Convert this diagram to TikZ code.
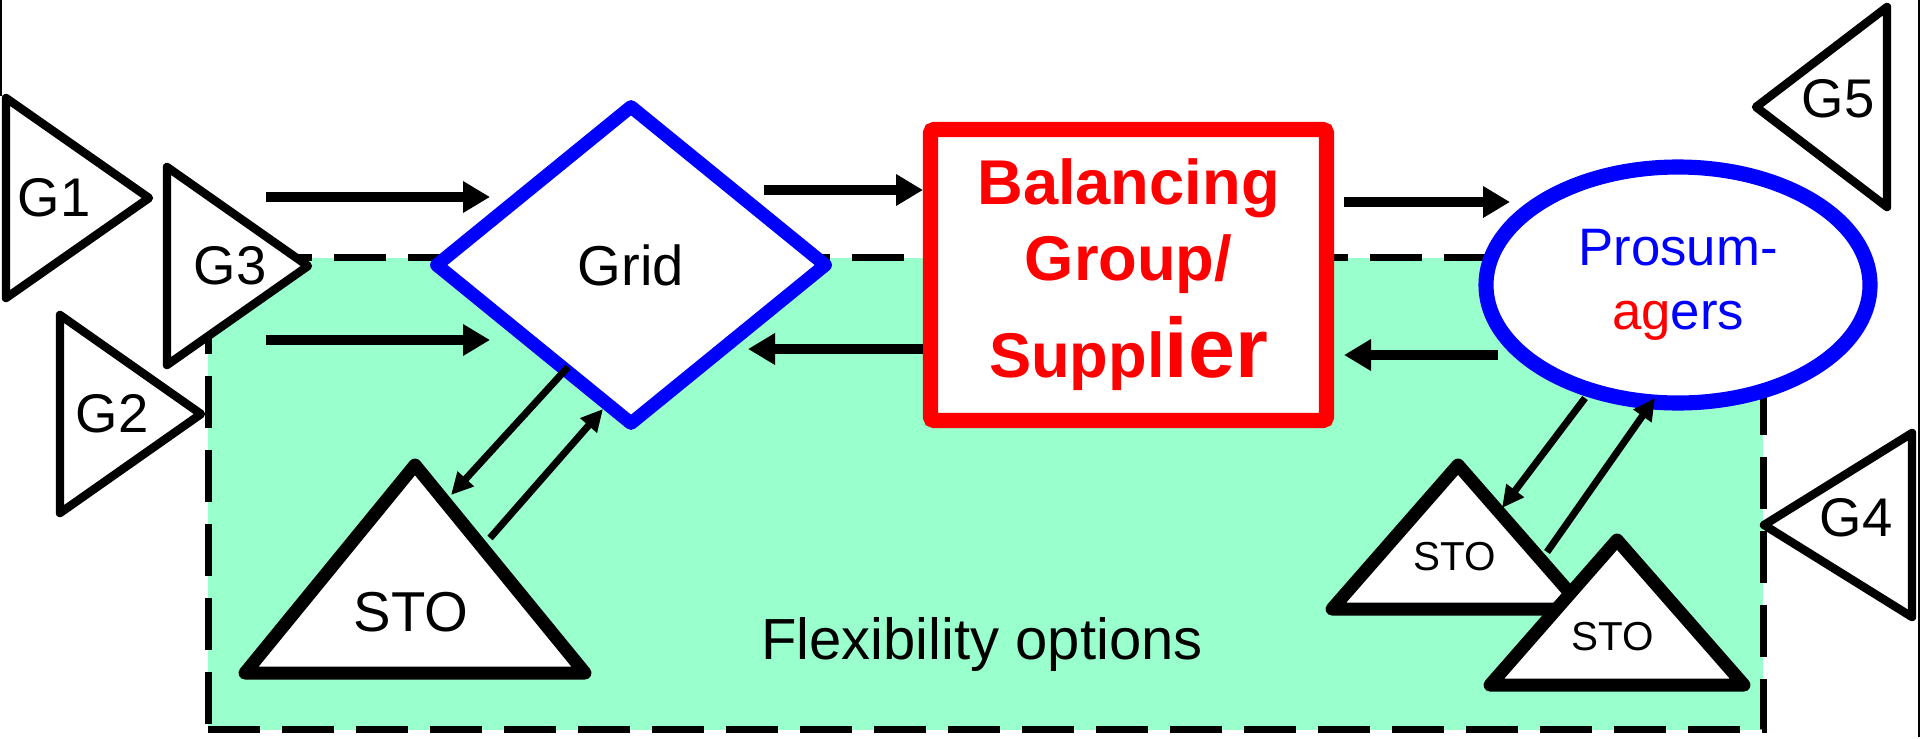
\documentclass[tikz,border=0pt]{standalone}
\usepackage{fontspec}
\setmainfont{Liberation Sans}
\usepackage{tikz}
\usetikzlibrary{arrows.meta,shapes.geometric}
\definecolor{flexgreen}{HTML}{99FFCC}
\definecolor{gridblue}{HTML}{0000FF}
\definecolor{supplyred}{HTML}{FF0000}
\tikzset{gen/.style={draw,line width=2.4pt,fill=white,line join=round},gen label/.style={inner sep=0pt,font=\fontsize{15.5}{18}\selectfont},store/.style={draw,fill=white,line join=round},store label/.style={inner sep=0pt},grid node/.style={diamond,draw=gridblue,line width=3.8pt,line join=round,fill=white,minimum width=3.94cm,minimum height=3.22cm,inner sep=0pt,font=\fontsize{16}{19}\selectfont},supplier/.style={draw=supplyred,line width=4.3pt,fill=white,rounded corners=1pt,minimum width=3.96cm,minimum height=2.91cm,text=supplyred,align=center,font=\bfseries\fontsize{18}{21.6}\selectfont},prosumer/.style={ellipse,draw=gridblue,line width=4.3pt,fill=white,minimum width=3.84cm,minimum height=2.36cm,inner sep=0pt,text=gridblue,align=center,font=\fontsize{15}{18.2}\selectfont},region/.style={draw,fill=flexgreen,line width=1.9pt,dash pattern=on 5.2mm off 2.2mm,inner sep=0pt},flow/.style={-{Triangle[length=2.7mm,width=3mm]},line width=3pt},exchange/.style={-{Triangle[length=2.2mm,width=2.1mm]},line width=2pt},diagram label/.style={font=\fontsize{16.5}{20}\selectfont}}

\begin{document}
\begin{tikzpicture}[x=1cm,y=1cm]
 \useasboundingbox (0,0) rectangle (19.2,7.38);
 \draw[line width=.5pt] (0.01,7.38) -- (0.01,6.42);
 \draw[line width=.5pt] (19.19,7.38) -- (19.19,0.01);
 \node[region,anchor=south west,minimum width=15.55cm,minimum height=4.72cm] (flex) at (2.05,0.05) {};
 \node[diagram label,anchor=base] (flexlabel) at (9.82,0.79) {Flexibility options};
 % generators
 \foreach \nm/\bx/\tx/\cy/\hh/\lx/\ly in {G1/0.06/1.49/5.40/1.0/0.54/5.40,G3/1.67/3.08/4.72/0.99/2.30/4.72,G2/0.60/2.01/3.24/0.99/1.12/3.24,G5/18.87/17.56/6.31/1.0/18.38/6.39,G4/19.12/17.64/2.13/0.92/18.56/2.20} {
   \draw[gen] (\bx,\cy+\hh) -- (\tx,\cy) -- (\bx,\cy-\hh) -- cycle;
   \node[gen label] (\nm) at (\lx,\ly) {\nm};
 }
 % storages
 \foreach \nm/\ax/\ay/\hw/\h/\lx/\ly/\fs in {sto/4.15/2.73/1.70/2.08/4.11/1.26/16,stoa/14.58/2.73/1.26/1.44/14.55/1.81/11.5,stob/16.17/1.98/1.27/1.45/16.13/1.01/11.5} {
   \draw[store,line width=3.7pt] (\ax,\ay) -- (\ax-\hw,\ay-\h) -- (\ax+\hw,\ay-\h) -- cycle;
   \node[store label,font=\fontsize{\fs}{\fs}\selectfont] (\nm) at (\lx,\ly) {STO};
 }
 \node[grid node] (grid) at (6.31,4.73) {Grid};
 \node[supplier] (bal) at (11.285,4.63) {Balancing\\Group/\\[6pt]Suppl{\fontsize{24}{28}\selectfont ier}};
 \node[prosumer] (pro) at (16.78,4.53) {Prosum-\\\textcolor{supplyred}{ag}ers};
 % energy flows
 \draw[flow] ([shift={(-3.65,.68)}]grid.center) -- ([shift={(-1.41,.68)}]grid.center);
 \draw[flow] ([shift={(-3.65,-.75)}]grid.center) -- ([shift={(-1.41,-.75)}]grid.center);
 \draw[flow] ([shift={(-3.645,.85)}]bal.center) -- ([shift={(-2.055,.85)}]bal.center);
 \draw[flow] ([shift={(-2.055,-.74)}]bal.center) -- ([shift={(-3.805,-.74)}]bal.center);
 \draw[flow] ([shift={(-3.34,.83)}]pro.center) -- ([shift={(-1.68,.83)}]pro.center);
 \draw[flow] ([shift={(-1.80,-.70)}]pro.center) -- ([shift={(-3.34,-.70)}]pro.center);
 % storage exchange
 \draw[exchange] ([shift={(-.63,-1.02)}]grid.center) -- ([shift={(.40,1.17)}]sto.center);
 \draw[exchange] ([shift={(.79,.74)}]sto.center) -- ([shift={(-.28,-1.44)}]grid.center);
 \draw[exchange] ([shift={(-.93,-1.13)}]pro.center) -- ([shift={(.47,.49)}]stoa.center);
 \draw[exchange] ([shift={(.92,.05)}]stoa.center) -- ([shift={(-.23,-1.13)}]pro.center);
\end{tikzpicture}
\end{document}
